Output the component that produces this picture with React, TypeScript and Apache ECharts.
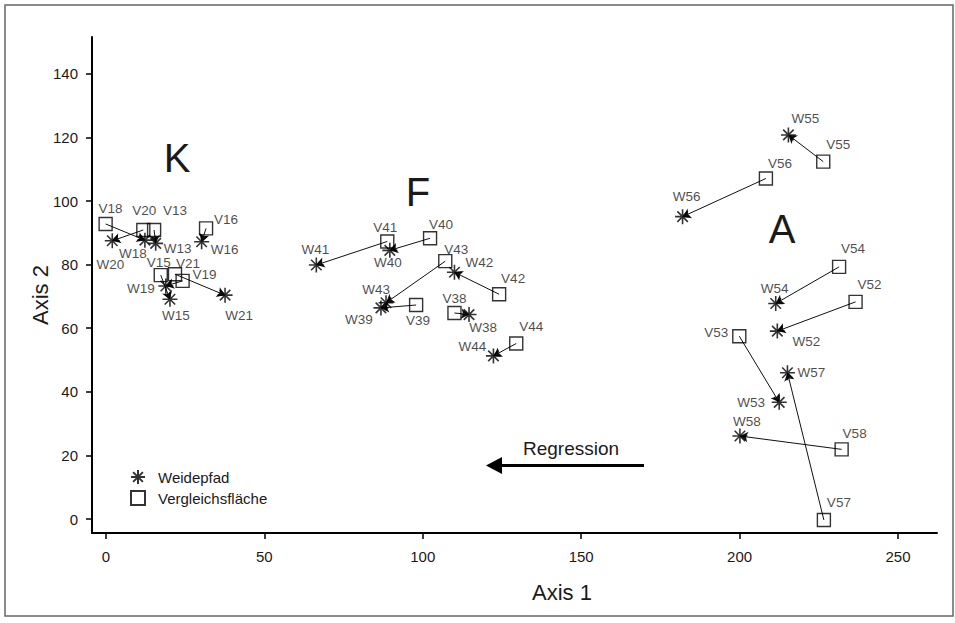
import React, { useEffect, useRef } from 'react';
import * as echarts from 'echarts';

// Axis tick values
const xTickValues = [0, 50, 100, 150, 200, 250];
const yTickValues = [0, 20, 40, 60, 80, 100, 120, 140];

// Weidepfad plots: [label, Axis 1, Axis 2]
const weidepfad: [string, number, number][] = [
  ['W13', 15.7, 86.7],
  ['W15', 20.2, 69.1],
  ['W16', 30.2, 87.2],
  ['W18', 12.3, 87.7],
  ['W19', 18.9, 73.3],
  ['W20', 2.0, 87.5],
  ['W21', 37.6, 70.4],
  ['W38', 114.6, 64.3],
  ['W39', 86.8, 66.4],
  ['W40', 89.6, 84.5],
  ['W41', 66.4, 79.9],
  ['W42', 110.0, 77.6],
  ['W43', 88.4, 68.0],
  ['W44', 122.3, 51.3],
  ['W52', 211.9, 59.1],
  ['W53', 212.5, 36.7],
  ['W54', 211.4, 67.8],
  ['W55', 215.4, 120.8],
  ['W56', 182.0, 95.1],
  ['W57', 215.1, 46.0],
  ['W58', 200.1, 26.1],
];

// Vergleichsfläche plots: [label, Axis 1, Axis 2]
const vergleich: [string, number, number][] = [
  ['V13', 15.2, 90.9],
  ['V15', 17.3, 76.7],
  ['V16', 31.6, 91.4],
  ['V18', -0.1, 92.8],
  ['V19', 24.2, 74.9],
  ['V20', 11.8, 90.9],
  ['V21', 21.8, 77.0],
  ['V38', 110.0, 64.8],
  ['V39', 97.9, 67.3],
  ['V40', 102.3, 88.3],
  ['V41', 88.8, 87.3],
  ['V42', 124.1, 70.7],
  ['V43', 107.1, 81.1],
  ['V44', 129.5, 55.2],
  ['V52', 236.6, 68.3],
  ['V53', 199.9, 57.5],
  ['V54', 231.4, 79.3],
  ['V55', 226.4, 112.4],
  ['V56', 208.3, 107.1],
  ['V57', 226.6, -0.3],
  ['V58', 232.2, 21.9],
];

// Label placement (pixel offsets from the marker centre)
const labelOffset: Record<string, [number, number]> = {
  V18: [5, -15], W20: [-2, 24], V20: [1, -19], V13: [21, -19], W18: [-12, 13], W13: [22, 5],
  V16: [20, -9], W16: [23, 8], V15: [-2, -13], V21: [13, -11], V19: [22, -6], W19: [-25, 3],
  W15: [6, 16], W21: [14, 20],
  V41: [-2, -14], W40: [-2, 12], V40: [11, -14], W41: [-1, -15], V43: [11, -12], W42: [25, -10],
  V42: [14, -16], W43: [-10, -13], W39: [-22, 12], V39: [2, 15], V38: [0, -14], W38: [14, 13],
  V44: [15, -17], W44: [-21, -9],
  W55: [17, -16], V55: [15, -17], V56: [14, -15], W56: [4, -20], V54: [14, -18], W54: [-1, -15],
  V52: [14, -17], W52: [29, 10], V53: [-23, -4], W57: [24, 0], W53: [-28, 0], W58: [7, -15],
  V58: [13, -16], V57: [15, -17],
};

const FONT = '"Liberation Sans", Arial, sans-serif';
const INK = '#000';
const STAR = 'path://M10 0L10 20M0 10L20 10M3 3L17 17M3 17L17 3';

export default function App() {
  const ref = useRef<HTMLDivElement>(null);

  useEffect(() => {
    if (!ref.current) return;
    const chart = echarts.init(ref.current, undefined, { renderer: 'svg' });

    const toItem = (p: [string, number, number]) => ({
      name: p[0],
      value: [p[1], p[2]],
      label: { offset: labelOffset[p[0]] || [0, -14] },
    });

    const arrows = vergleich
      .map((v) => {
        const w = weidepfad.find((q) => q[0].slice(1) === v[0].slice(1));
        if (!w) return null;
        return { coords: [[v[1], v[2]], [w[1], w[2]]] };
      })
      .filter(Boolean);

    const pointLabel = {
      show: true,
      position: 'inside',
      formatter: '{b}',
      color: '#1a1a1a',
      fontSize: 13.5,
      fontFamily: FONT,
      textBorderWidth: 0,
    };

    chart.setOption({
      animation: false,
      backgroundColor: '#fff',
      grid: { left: 92, right: 18, top: 37, bottom: 90 },
      legend: {
        orient: 'vertical',
        left: 130,
        top: 469,
        padding: 0,
        itemGap: 5,
        itemWidth: 14,
        itemHeight: 14,
        selectedMode: false,
        data: ['Weidepfad', 'Vergleichsfläche'],
        textStyle: { fontSize: 15, fontFamily: FONT, color: '#1a1a1a', padding: [0, 0, 0, 8] },
      },
      xAxis: {
        type: 'value',
        min: -4.4,
        max: 262.3,
        splitLine: { show: false },
        axisLine: { onZero: false, lineStyle: { color: '#000', width: 2 } },
        axisTick: { customValues: xTickValues, length: 6, lineStyle: { color: '#000', width: 1.5 } },
        axisLabel: { customValues: xTickValues, margin: 16, fontSize: 15, fontFamily: FONT, color: '#1a1a1a' },
      },
      yAxis: {
        type: 'value',
        min: -4.4,
        max: 151.6,
        splitLine: { show: false },
        axisLine: { onZero: false, lineStyle: { color: '#000', width: 2 } },
        axisTick: { customValues: yTickValues, length: 6, lineStyle: { color: '#000', width: 1.5 } },
        axisLabel: { customValues: yTickValues, margin: 14, fontSize: 15, fontFamily: FONT, color: '#1a1a1a' },
      },
      series: [
        {
          type: 'lines',
          coordinateSystem: 'cartesian2d',
          silent: true,
          z: 1,
          symbol: ['none', 'arrow'],
          symbolSize: 8,
          lineStyle: { color: '#111', width: 1, opacity: 1 },
          data: arrows,
        },
        {
          name: 'Vergleichsfläche',
          type: 'scatter',
          silent: true,
          z: 2,
          symbol: 'rect',
          symbolSize: 13,
          itemStyle: { color: 'rgba(0,0,0,0)', borderColor: INK, borderWidth: 1.4 },
          label: pointLabel,
          data: vergleich.map(toItem),
        },
        {
          name: 'Weidepfad',
          type: 'scatter',
          silent: true,
          z: 3,
          symbol: STAR,
          symbolSize: 15,
          itemStyle: { color: INK, borderColor: INK, borderWidth: 1.6 },
          label: pointLabel,
          data: weidepfad.map(toItem),
        },
      ],
      graphic: [
        {
          type: 'rect',
          shape: { x: 5, y: 5, width: 948, height: 611 },
          style: { fill: 'none', stroke: '#666', lineWidth: 1.5 },
          silent: true,
        },
        { type: 'text', x: 177, y: 158, style: { text: 'K', fontSize: 40, fontFamily: FONT, fill: '#1a1a1a', align: 'center', verticalAlign: 'middle' } },
        { type: 'text', x: 418, y: 192, style: { text: 'F', fontSize: 40, fontFamily: FONT, fill: '#1a1a1a', align: 'center', verticalAlign: 'middle' } },
        { type: 'text', x: 782, y: 229, style: { text: 'A', fontSize: 40, fontFamily: FONT, fill: '#1a1a1a', align: 'center', verticalAlign: 'middle' } },
        { type: 'text', x: 571, y: 448, style: { text: 'Regression', fontSize: 19, fontFamily: FONT, fill: '#1a1a1a', align: 'center', verticalAlign: 'middle' } },
        { type: 'line', shape: { x1: 497, y1: 465.5, x2: 644, y2: 465.5 }, style: { stroke: '#000', lineWidth: 3 } },
        { type: 'polygon', shape: { points: [[486, 465.5], [502, 457], [502, 474]] }, style: { fill: '#000' } },
        { type: 'text', x: 562, y: 592, style: { text: 'Axis 1', fontSize: 22, fontFamily: FONT, fill: '#1a1a1a', align: 'center', verticalAlign: 'middle' } },
        { type: 'text', x: 40, y: 295, rotation: Math.PI / 2, style: { text: 'Axis 2', fontSize: 22, fontFamily: FONT, fill: '#1a1a1a', align: 'center', verticalAlign: 'middle' } },
      ],
    });

    return () => chart.dispose();
  }, []);

  return <div ref={ref} style={{ position: 'fixed', left: 0, top: 0, width: 955, height: 623 }} />;
}
